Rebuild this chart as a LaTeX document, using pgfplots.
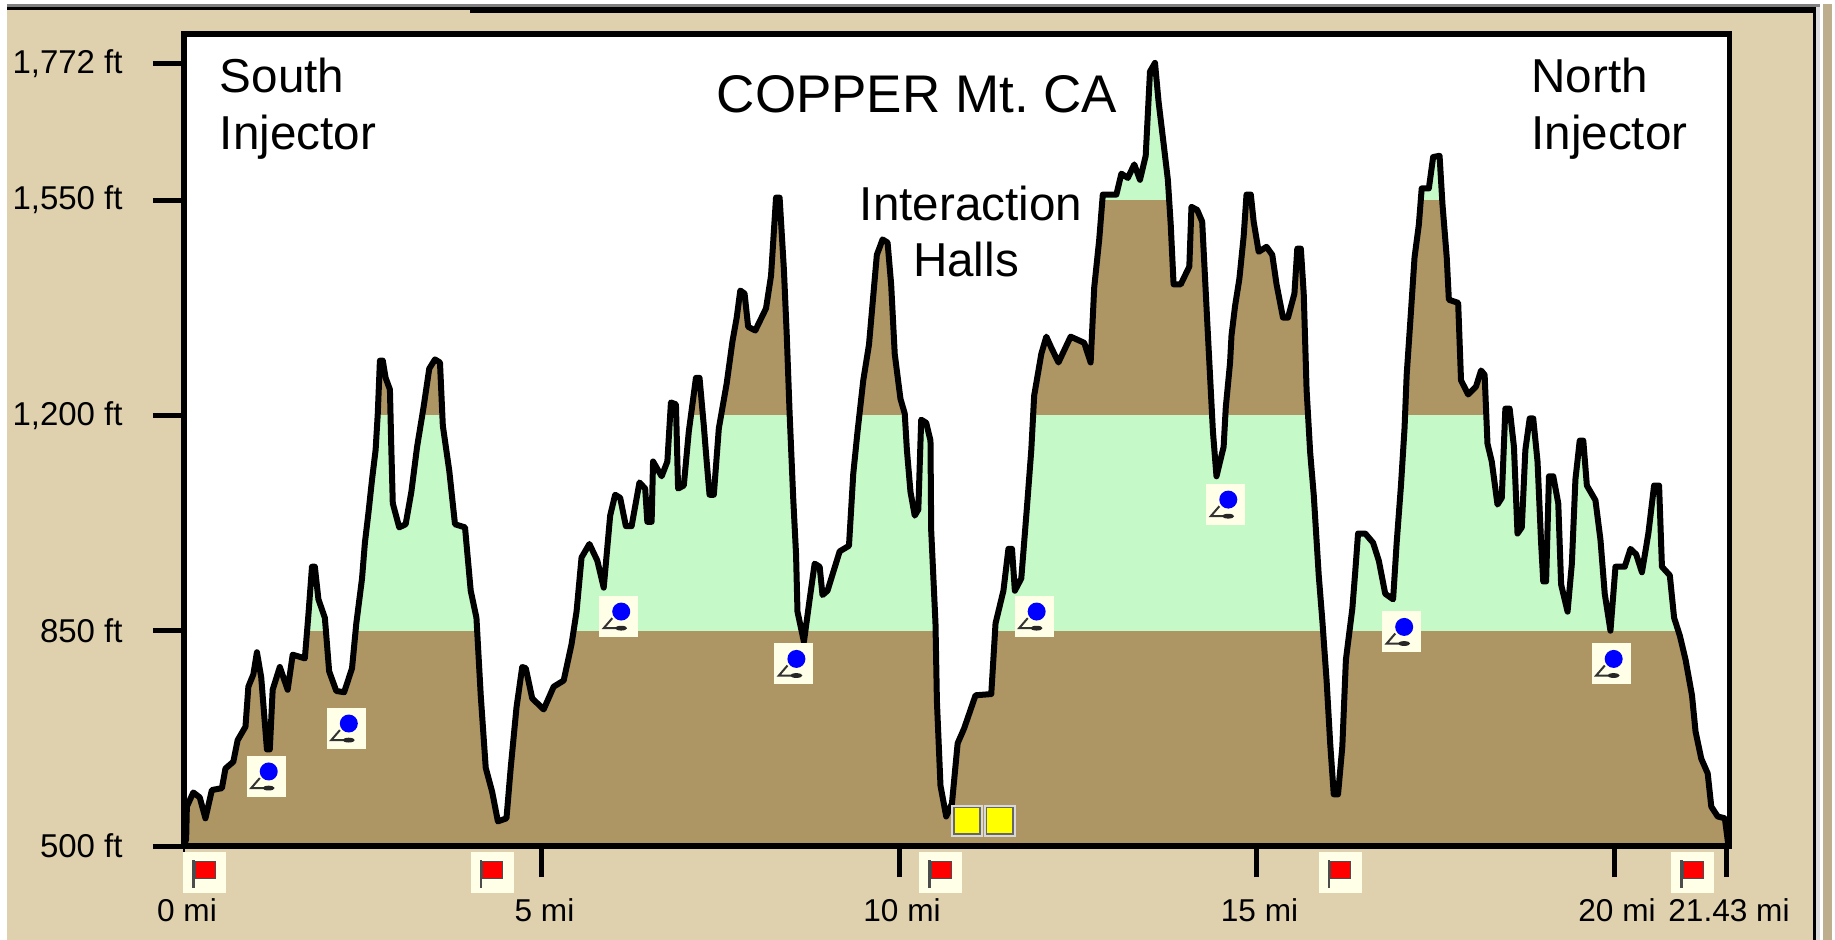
\documentclass[border=0pt]{standalone}
\usepackage{pgfplots}
\usepackage{pgfplotstable}
\usepackage{fontspec}
\setmainfont{Liberation Sans}
\pgfplotsset{compat=1.18}
\definecolor{panel}{HTML}{DFD0AE}
\definecolor{panelb}{HTML}{BDAE8E}
\definecolor{landbrown}{HTML}{AE9564}
\definecolor{landgreen}{HTML}{C5F9C8}
\definecolor{iconbg}{HTML}{FFFFE8}
\definecolor{frameg}{HTML}{808080}
\definecolor{framel}{HTML}{DCDCDC}
\definecolor{iconyellow}{HTML}{FFFF00}
\definecolor{iconblue}{HTML}{0000FF}
\definecolor{iconred}{HTML}{FF0000}
\pgfplotstableread{
mi ft
0 500
0.03 511
0.04 564
0.13 587
0.22 579
0.30 545
0.39 591
0.53 594
0.58 626
0.69 637
0.75 672
0.86 694
0.90 759
0.97 779
1.02 815
1.08 774
1.16 657
1.20 657
1.24 754
1.34 791
1.45 754
1.52 811
1.69 805
1.74 876
1.79 954
1.83 954
1.88 901
1.97 871
2.03 784
2.13 752
2.24 750
2.35 789
2.41 862
2.49 935
2.53 993
2.58 1042
2.63 1096
2.68 1144
2.71 1203
2.74 1289
2.78 1289
2.82 1261
2.88 1242
2.90 1144
2.92 1057
3.01 1018
3.10 1023
3.18 1076
3.26 1149
3.35 1213
3.43 1276
3.51 1291
3.58 1286
3.62 1183
3.71 1110
3.79 1023
3.93 1018
4.01 915
4.09 871
4.15 745
4.22 627
4.31 588
4.39 540
4.51 545
4.57 628
4.65 725
4.73 791
4.78 789
4.87 740
5.03 722
5.17 759
5.31 769
5.42 828
5.49 881
5.56 969
5.67 991
5.78 964
5.87 920
5.96 1037
6.03 1071
6.10 1066
6.18 1020
6.26 1020
6.37 1091
6.45 1081
6.48 1027
6.54 1027
6.56 1125
6.68 1101
6.76 1125
6.81 1221
6.88 1218
6.91 1081
6.99 1086
7.06 1174
7.16 1261
7.21 1261
7.27 1183
7.31 1125
7.35 1071
7.41 1071
7.48 1179
7.59 1252
7.67 1320
7.73 1359
7.78 1403
7.84 1398
7.89 1344
7.99 1338
8.14 1374
8.21 1427
8.28 1554
8.33 1554
8.39 1437
8.43 1330
8.47 1203
8.52 1066
8.56 974
8.58 881
8.67 832
8.75 901
8.82 959
8.89 954
8.93 908
9.00 915
9.17 979
9.30 988
9.36 1105
9.42 1174
9.50 1257
9.58 1315
9.65 1408
9.69 1461
9.77 1486
9.84 1481
9.89 1413
9.94 1300
10.02 1227
10.08 1203
10.11 1144
10.16 1076
10.22 1037
10.27 1047
10.31 1193
10.38 1188
10.44 1159
10.45 1013
10.51 862
10.53 735
10.58 598
10.66 548
10.74 569
10.82 667
10.91 691
11.07 745
11.29 747
11.35 862
11.46 915
11.53 983
11.58 983
11.62 915
11.71 935
11.79 1052
11.85 1144
11.89 1232
11.99 1300
12.06 1328
12.13 1310
12.23 1286
12.40 1328
12.59 1318
12.68 1286
12.73 1408
12.80 1486
12.85 1559
13.04 1559
13.11 1593
13.20 1586
13.29 1608
13.37 1583
13.45 1622
13.51 1759
13.58 1773
13.63 1710
13.70 1642
13.76 1583
13.80 1510
13.84 1413
13.94 1413
14.06 1442
14.09 1539
14.17 1534
14.24 1515
14.31 1354
14.39 1174
14.44 1101
14.54 1149
14.57 1213
14.63 1286
14.65 1330
14.70 1378
14.76 1422
14.82 1491
14.86 1559
14.92 1559
14.96 1515
15.03 1466
15.14 1474
15.22 1461
15.28 1413
15.37 1359
15.44 1359
15.53 1398
15.57 1471
15.62 1471
15.66 1398
15.70 1242
15.75 1140
15.80 1071
15.87 940
15.92 867
15.98 769
16.03 667
16.08 584
16.14 584
16.20 662
16.25 803
16.34 886
16.38 945
16.42 1008
16.52 1008
16.63 993
16.71 964
16.80 910
16.91 901
16.96 993
17.02 1086
17.07 1179
17.10 1266
17.16 1369
17.21 1457
17.27 1510
17.31 1569
17.41 1569
17.47 1620
17.56 1622
17.60 1544
17.66 1457
17.69 1388
17.82 1383
17.86 1257
17.96 1234
18.07 1247
18.14 1273
18.19 1266
18.23 1154
18.29 1125
18.37 1055
18.43 1066
18.48 1211
18.54 1211
18.60 1149
18.65 1008
18.71 1018
18.76 1144
18.82 1195
18.87 1195
18.93 1125
18.98 993
19.01 930
19.05 930
19.09 1101
19.15 1101
19.22 1057
19.26 925
19.35 881
19.41 959
19.46 1096
19.52 1159
19.57 1159
19.62 1086
19.74 1062
19.81 998
19.87 910
19.95 850
20.02 954
20.15 954
20.23 983
20.31 974
20.39 945
20.48 1008
20.56 1086
20.63 1086
20.67 954
20.78 940
20.84 871
20.92 842
21.00 803
21.09 745
21.14 686
21.22 642
21.31 618
21.36 564
21.45 548
21.55 545
21.60 500
}\profile
% icon marks (1 px = 0.5 pt)
\pgfdeclareplotmark{flagicon}{%
  \pgfsetfillcolor{iconbg}%
  \pgfpathrectangle{\pgfpoint{-10.75pt}{-10.25pt}}{\pgfpoint{21.5pt}{20.5pt}}\pgfusepath{fill}%
  \pgfsetstrokecolor{black!70}\pgfsetlinewidth{1.3pt}%
  \pgfpathmoveto{\pgfpoint{-5.5pt}{6.2pt}}\pgfpathlineto{\pgfpoint{-5.5pt}{-8pt}}\pgfusepath{stroke}%
  \pgfsetfillcolor{iconred}\pgfsetlinewidth{0.5pt}%
  \pgfpathrectangle{\pgfpoint{-4.7pt}{-3pt}}{\pgfpoint{10pt}{8.4pt}}\pgfusepath{fill,stroke}%
}
\pgfdeclareplotmark{pinicon}{%
  \pgfsetfillcolor{iconbg}%
  \pgfpathrectangle{\pgfpoint{-9.75pt}{-10.25pt}}{\pgfpoint{19.5pt}{20.5pt}}\pgfusepath{fill}%
  \pgfsetstrokecolor{black!80}\pgfsetlinewidth{1pt}%
  \pgfpathmoveto{\pgfpoint{-3.2pt}{-0.8pt}}\pgfpathlineto{\pgfpoint{-7.5pt}{-5.8pt}}\pgfpathlineto{\pgfpoint{3pt}{-5.8pt}}\pgfusepath{stroke}%
  \pgfsetfillcolor{black!85}%
  \pgfpathellipse{\pgfpoint{1.2pt}{-5.8pt}}{\pgfpoint{3pt}{0pt}}{\pgfpoint{0pt}{1.2pt}}\pgfusepath{fill}%
  \pgfsetfillcolor{iconblue}%
  \pgfpathcircle{\pgfpoint{1.25pt}{2.5pt}}{4.5pt}\pgfusepath{fill}%
}
\pgfdeclareplotmark{yellowicon}{%
  \pgfsetfillcolor{black!15}%
  \pgfpathrectangle{\pgfpoint{-8.1pt}{-8.1pt}}{\pgfpoint{16.2pt}{16.2pt}}\pgfusepath{fill}%
  \pgfsetfillcolor{iconyellow}\pgfsetstrokecolor{black!60}\pgfsetlinewidth{0.8pt}%
  \pgfpathrectangle{\pgfpoint{-6.6pt}{-6.6pt}}{\pgfpoint{13.2pt}{13.2pt}}\pgfusepath{fill,stroke}%
}
\begin{document}
\frenchspacing
\begin{tikzpicture}
\begin{scope}[x=0.5pt,y=-0.5pt]
  \useasboundingbox (0,0) rectangle (1835,940);
  \fill[white] (0,0) rectangle (1835,940);
  \fill[panel] (7,7) rectangle (1816,940);
  \fill[frameg] (7,4) rectangle (1820,7);
  \fill[black] (7,7) rectangle (1816,10);
  \fill[black] (470,10) rectangle (1816,13);
  \fill[black] (1813,7) rectangle (1816,940);
  \fill[framel] (1816,7) rectangle (1820,940);
  \fill[panelb] (1823,4) rectangle (1832,940);
\end{scope}
\begin{axis}[
  at={(92pt,-423pt)}, anchor=south west,
  scale only axis, width=772.75pt, height=406pt,
  xmin=0, xmax=21.615, ymin=500, ymax=1820,
  clip=false, axis on top=true,
  axis line style={black,line width=2.85pt},
  tick align=outside, major tick length=15.5pt,
  xtick pos=lower, ytick pos=left,
  tick style={black,line width=2.5pt},
  xtick={5,10,15,20,21.566},
  xticklabels={5 mi,10 mi,15 mi,20 mi,21.43 mi},
  extra x ticks={0}, extra x tick labels={0 mi},
  extra x tick style={tick style={black,line width=0.7pt}},
  ytick={500,850,1200,1550,1772},
  yticklabels={500 ft,850 ft,{1,200 ft},{1,550 ft},{1,772 ft}},
  xticklabel style={font=\fontsize{15.8}{18}\selectfont,anchor=base,yshift=-22pt,xshift=1.5pt,inner sep=0pt},
  yticklabel style={font=\fontsize{16.5}{18}\selectfont,anchor=east,xshift=-15pt,inner sep=0pt},
]
\addplot[fill=landbrown,draw=none] coordinates {(0,500)(21.615,500)(21.615,850)(0,850)} -- cycle;
\addplot[fill=landgreen,draw=none] coordinates {(0,850)(21.615,850)(21.615,1200)(0,1200)} -- cycle;
\addplot[fill=landbrown,draw=none] coordinates {(0,1200)(21.615,1200)(21.615,1550)(0,1550)} -- cycle;
\addplot[fill=landgreen,draw=none] coordinates {(0,1550)(21.615,1550)(21.615,1820)(0,1820)} -- cycle;
\addplot[fill=white,draw=none] table[x=mi,y=ft]{\profile} -- (axis cs:21.615,1820) -- (axis cs:0,1820) -- cycle;
\addplot[black,line width=3pt,line join=round,no marks] table[x=mi,y=ft]{\profile};
\addplot[only marks,mark=pinicon] coordinates {(1.15,613)(2.27,691)(6.08,873)(8.53,796)(11.89,873)(14.57,1055)(17.03,848)(19.96,796)};
\addplot[only marks,mark=yellowicon] coordinates {(10.95,541)(11.41,541)};
\addplot[only marks,mark=flagicon] coordinates {(0.29,457)(4.31,457)(10.58,457)(16.17,457)(21.10,457)};
\end{axis}
\begin{scope}[x=0.5pt,y=-0.5pt]
  \def\ann{\fontsize{23.8}{26}\selectfont}
  \node[anchor=base west,inner sep=0pt] at (219.5,93) {\ann South};
  \node[anchor=base west,inner sep=0pt] at (219.5,150) {\ann Injector};
  \node[anchor=base west,inner sep=0pt] at (1531,93) {\ann North};
  \node[anchor=base west,inner sep=0pt] at (1531,150) {\ann Injector};
  \node[anchor=base,inner sep=0pt] at (917,112.7) {\fontsize{26.5}{28}\selectfont COPPER Mt. CA};
  \node[anchor=base,inner sep=0pt] at (971,220.6) {\ann Interaction};
  \node[anchor=base,inner sep=0pt] at (966,277) {\ann Halls};
\end{scope}
\end{tikzpicture}
\end{document}
